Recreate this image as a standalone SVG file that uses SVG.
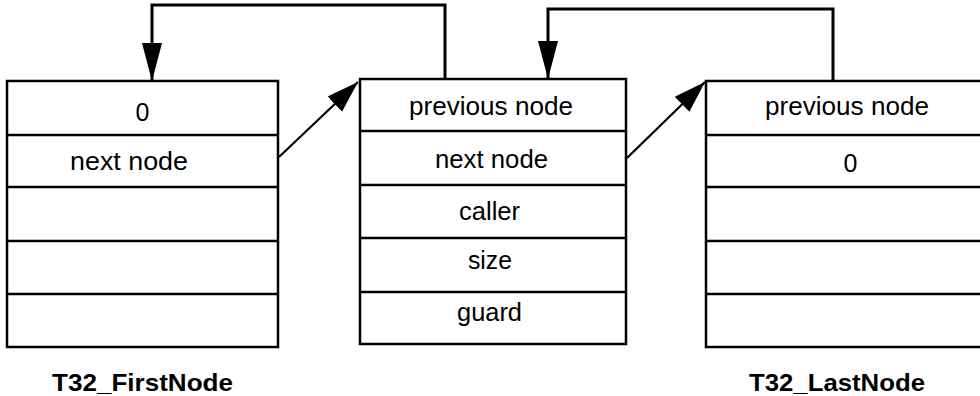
<svg xmlns="http://www.w3.org/2000/svg" width="980" height="396" viewBox="0 0 980 396">
<style>
.box{fill:#fff;stroke:#000;stroke-width:2.5}
.div{stroke:#000;stroke-width:2.5}
.t{font-family:"Liberation Sans",Arial,sans-serif;font-size:25px;fill:#000}
.lbl{font-family:"Liberation Sans",Arial,sans-serif;font-size:24px;font-weight:bold;fill:#000}
.conn{fill:none;stroke:#000;stroke-width:3}
.diag{fill:none;stroke:#000;stroke-width:2.2}
</style>
<defs>
<marker id="arrowV" markerUnits="userSpaceOnUse" markerWidth="40" markerHeight="22" refX="38" refY="10" orient="auto" viewBox="0 0 40 20">
<path d="M0,0 L38,10 L0,20 Z" fill="#000"/>
</marker>
<marker id="arrowD" markerUnits="userSpaceOnUse" markerWidth="34" markerHeight="22" refX="32" refY="10.5" orient="auto" viewBox="0 0 34 21">
<path d="M0,0 L32,10.5 L0,21 Z" fill="#000"/>
</marker>
</defs>
<g id="node-first">
<rect class="box" x="7" y="81" width="271" height="266"/>
<line class="div" x1="7" y1="135" x2="278" y2="135"/>
<line class="div" x1="7" y1="187" x2="278" y2="187"/>
<line class="div" x1="7" y1="241" x2="278" y2="241"/>
<line class="div" x1="7" y1="294" x2="278" y2="294"/>
<text class="t" x="142.5" y="121" text-anchor="middle">0</text>
<text class="t" x="70" y="170" textLength="118" lengthAdjust="spacingAndGlyphs">next node</text>
</g>
<g id="node-middle">
<rect class="box" x="360" y="79" width="266" height="265"/>
<line class="div" x1="360" y1="131" x2="626" y2="131"/>
<line class="div" x1="360" y1="185" x2="626" y2="185"/>
<line class="div" x1="360" y1="238" x2="626" y2="238"/>
<line class="div" x1="360" y1="292" x2="626" y2="292"/>
<text class="t" x="409" y="115" textLength="164" lengthAdjust="spacingAndGlyphs">previous node</text>
<text class="t" x="435" y="168" textLength="113" lengthAdjust="spacingAndGlyphs">next node</text>
<text class="t" x="459" y="220" textLength="61" lengthAdjust="spacingAndGlyphs">caller</text>
<text class="t" x="468" y="269" textLength="44" lengthAdjust="spacingAndGlyphs">size</text>
<text class="t" x="457" y="321" textLength="65" lengthAdjust="spacingAndGlyphs">guard</text>
</g>
<g id="node-last">
<rect class="box" x="706" y="81" width="290" height="266"/>
<line class="div" x1="706" y1="135" x2="996" y2="135"/>
<line class="div" x1="706" y1="187" x2="996" y2="187"/>
<line class="div" x1="706" y1="241" x2="996" y2="241"/>
<line class="div" x1="706" y1="294" x2="996" y2="294"/>
<text class="t" x="765" y="115" textLength="164" lengthAdjust="spacingAndGlyphs">previous node</text>
<text class="t" x="850.5" y="172" text-anchor="middle">0</text>
</g>
<g id="label-first">
<text class="lbl" x="52" y="391" textLength="181" lengthAdjust="spacingAndGlyphs">T32_FirstNode</text>
</g>
<g id="label-last">
<text class="lbl" x="749" y="391" textLength="176" lengthAdjust="spacingAndGlyphs">T32_LastNode</text>
</g>
<g id="connectors">
<path class="conn" d="M445,79 V5 H152 V81" marker-end="url(#arrowV)"/>
<path class="conn" d="M833,81 V9 H548 V79" marker-end="url(#arrowV)"/>
<path class="diag" d="M279,157 L358,82" marker-end="url(#arrowD)"/>
<path class="diag" d="M627,158 L705,82" marker-end="url(#arrowD)"/>
</g>
</svg>
